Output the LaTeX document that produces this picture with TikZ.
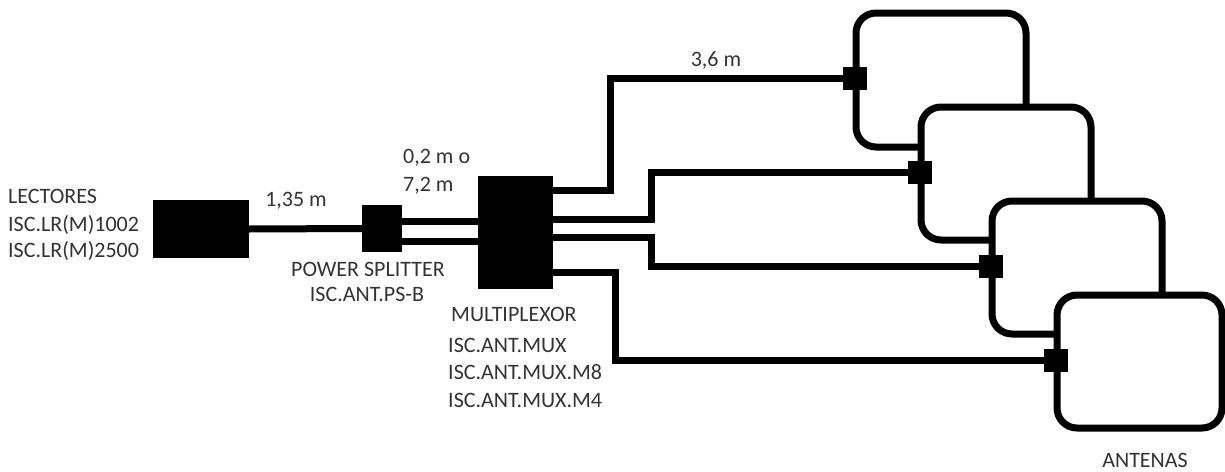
\documentclass[tikz,border=0pt]{standalone}
\usepackage{fontspec}
\setmainfont{Carlito}
\definecolor{txt}{HTML}{333333}
\begin{document}
\begin{tikzpicture}[x=1pt,y=-1pt,
  block/.style={fill=black,draw=none,inner sep=0pt,outer sep=0pt},
  cable/.style={line width=7pt,draw=black,line join=miter},
  loopline/.style={line width=7pt,draw=black,rounded corners=20pt},
  lbl/.style={inner sep=0pt,text=txt,font=\fontsize{22pt}{24pt}\selectfont,anchor=base},
  lbll/.style={lbl,anchor=base west}]
\useasboundingbox (0,0) rectangle (1225,471);
\fill[white] (0,0) rectangle (1225,471);
% blocks
\node[block,minimum width=96pt,minimum height=58pt] (reader) at (201,229) {};
\node[block,minimum width=40pt,minimum height=47pt] (split) at (382,228.5) {};
\node[block,minimum width=75pt,minimum height=113pt] (mux) at (515.5,232.5) {};
% ports
\node[block,minimum width=24pt,minimum height=23pt] (c1) at (855,78.5) {};
\node[block,minimum width=24pt,minimum height=23pt] (c2) at (920,172.5) {};
\node[block,minimum width=24pt,minimum height=23pt] (c3) at (991,266) {};
\node[block,minimum width=24pt,minimum height=23pt] (c4) at (1056,360) {};
% mux and splitter anchors
\coordinate (s1) at (402,221); \coordinate (m1) at (478,221);
\coordinate (s2) at (402,241); \coordinate (m2) at (478,241);
\coordinate (o1) at (553,190); \coordinate (o2) at (553,219);
\coordinate (o3) at (553,237); \coordinate (o4) at (553,272);
\coordinate (k1) at (610,78.5); \coordinate (j1) at (610,190);
\coordinate (k2) at (651,172.5); \coordinate (j2) at (651,219);
\coordinate (k3) at (651,266); \coordinate (j3) at (651,237);
\coordinate (k4) at (615,360); \coordinate (j4) at (615,272);
% cables
\draw[cable] (reader.east) -- (split.west);
\draw[cable] (s1) -- (m1);
\draw[cable] (s2) -- (m2);
\draw[cable] (o1) -- (j1) -- (k1) -- (c1.west);
\draw[cable] (o2) -- (j2) -- (k2) -- (c2.west);
\draw[cable] (o3) -- (j3) -- (k3) -- (c3.west);
\draw[cable] (o4) -- (j4) -- (k4) -- (c4.west);
% antennas
\draw[loopline] (921,147) -- (856,147) -- (856,13) -- (1026,13) -- (1026,107);
\draw[loopline] (992,240) -- (921,240) -- (921,107) -- (1091,107) -- (1091,201);
\draw[loopline] (1057,334) -- (992,334) -- (992,201) -- (1162,201) -- (1162,295);
\draw[loopline] (1057,295) rectangle (1222,428);
% labels
\node[lbl] (t36) at (716,66) {3,6 m};
\node[lbl] (t135) at (296,206) {1,35 m};
\node[lbll] (t02) at (403,163) {0,2 m o};
\node[lbll] (t72) at (403,191) {7,2 m};
\node[lbll] (l1) at (8,203) {LECTORES};
\node[lbll] (l2) at (8,231) {ISC.LR(M)1002};
\node[lbll] (l3) at (8,257) {ISC.LR(M)2500};
\node[lbl] (p1) at (368,276) {POWER SPLITTER};
\node[lbl] (p2) at (367,301) {ISC.ANT.PS-B};
\node[lbll] (x1) at (451,321) {MULTIPLEXOR};
\node[lbll] (x2) at (448,352) {ISC.ANT.MUX};
\node[lbll] (x3) at (448,379) {ISC.ANT.MUX.M8};
\node[lbll] (x4) at (448,407) {ISC.ANT.MUX.M4};
\node[lbl] (ant) at (1145,467) {ANTENAS};
\end{tikzpicture}
\end{document}
